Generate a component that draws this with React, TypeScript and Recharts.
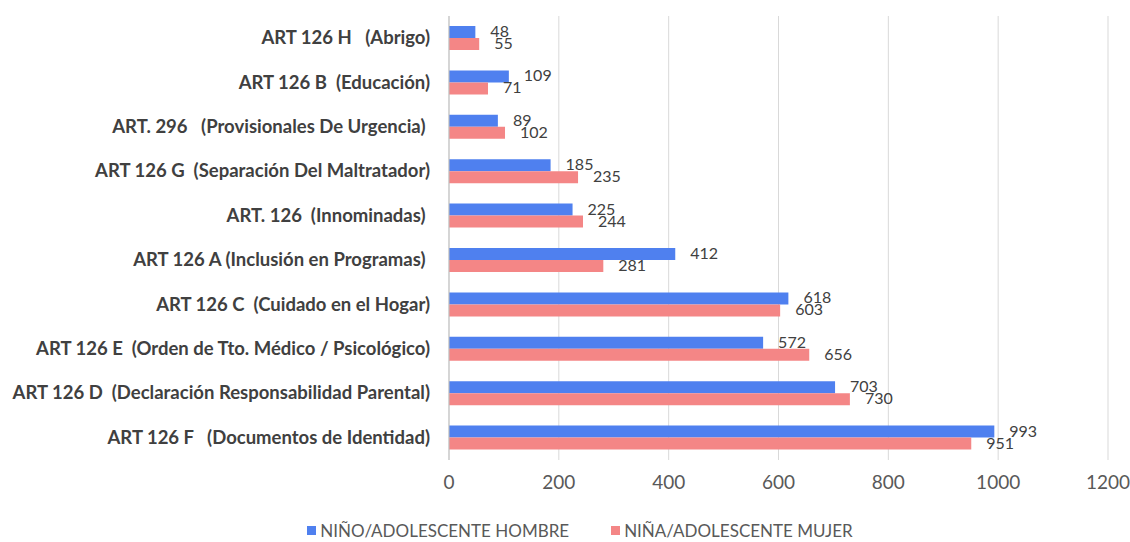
import React from "react";
import { BarChart, Bar, XAxis, YAxis, CartesianGrid, Legend, LabelList } from "recharts";

const categories = [
  "ART 126 H   (Abrigo)",
  "ART 126 B  (Educación)",
  "ART. 296   (Provisionales De Urgencia) ",
  "ART 126 G  (Separación Del Maltratador)",
  "ART. 126  (Innominadas) ",
  "ART 126 A (Inclusión en Programas) ",
  "ART 126 C  (Cuidado en el Hogar)",
  "ART 126 E  (Orden de Tto. Médico / Psicológico)",
  "ART 126 D  (Declaración Responsabilidad Parental)",
  "ART 126 F   (Documentos de Identidad)",
];

const hombre = [48, 109, 89, 185, 225, 412, 618, 572, 703, 993];
const mujer = [55, 71, 102, 235, 244, 281, 603, 656, 730, 951];

const xTicks = [0, 200, 400, 600, 800, 1000, 1200];

const seriesNames = ["NIÑO/ADOLESCENTE HOMBRE", "NIÑA/ADOLESCENTE MUJER"];
const seriesColors = ["#4f80ef", "#f48686"];

const data = categories.map((name, i) => ({ name, hombre: hombre[i], mujer: mujer[i] }));

const FONT = "Lato, 'Liberation Sans', sans-serif";

function CategoryTick(props: any) {
  const { x, y, payload } = props;
  return (
    <text
      x={x}
      y={y}
      dy={6}
      textAnchor="end"
      fill="#404040"
      fontSize={18.5}
      fontWeight={700}
      fontFamily={FONT}
      style={{ whiteSpace: "pre" }}
    >
      {payload.value}
    </text>
  );
}

function ValueLabel(props: any) {
  const { x, y, width, height, value } = props;
  return (
    <text
      x={x + width + 15}
      y={y + height / 2}
      dy={5}
      fill="#404040"
      fontSize={16}
      fontFamily={FONT}
    >
      {value}
    </text>
  );
}

function LegendContent() {
  return (
    <div style={{ display: "flex", justifyContent: "center", alignItems: "center", height: 24, paddingLeft: 52, fontFamily: FONT, fontSize: 17, color: "#595959" }}>
      {seriesNames.map((n, i) => (
        <div key={n} style={{ display: "flex", alignItems: "center", marginLeft: i ? 42 : 0 }}>
          <span style={{ width: 9, height: 9, background: seriesColors[i], marginRight: 4, display: "inline-block" }} />
          <span>{n}</span>
        </div>
      ))}
    </div>
  );
}

export default function App() {
  return (
    <div style={{ position: "absolute", left: 0, top: 0, width: 1130, height: 542, background: "#fff" }}>
      <BarChart
        width={1130}
        height={542}
        data={data}
        layout="vertical"
        margin={{ top: 16, right: 22, bottom: 18, left: 0 }}
        barGap={0}
      >
        <CartesianGrid horizontal={false} stroke="#d9d9d9" />
        <XAxis
          type="number"
          domain={[0, 1200]}
          ticks={xTicks}
          axisLine={false}
          tickLine={false}
          tickSize={0}
          tickMargin={16}
          height={40}
          tick={{ fill: "#595959", fontSize: 19, fontFamily: FONT }}
        />
        <YAxis
          type="category"
          dataKey="name"
          width={449}
          axisLine={{ stroke: "#bfbfbf" }}
          tickLine={false}
          tickSize={0}
          tickMargin={19}
          tick={<CategoryTick />}
          interval={0}
        />
        <Legend
          verticalAlign="bottom"
          content={<LegendContent />}
          wrapperStyle={{ height: 24, bottom: 0 }}
        />
        <Bar dataKey="hombre" name={seriesNames[0]} fill={seriesColors[0]} barSize={12} isAnimationActive={false}>
          <LabelList dataKey="hombre" content={<ValueLabel />} />
        </Bar>
        <Bar dataKey="mujer" name={seriesNames[1]} fill={seriesColors[1]} barSize={12} isAnimationActive={false}>
          <LabelList dataKey="mujer" content={<ValueLabel />} />
        </Bar>
      </BarChart>
    </div>
  );
}
